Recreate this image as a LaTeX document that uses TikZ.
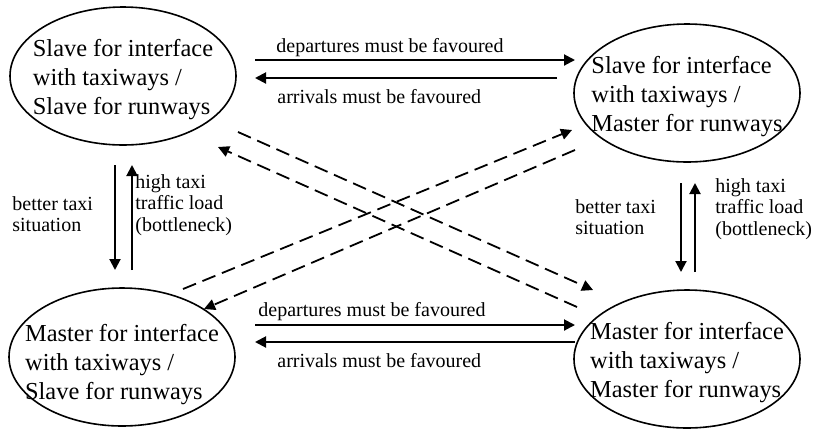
\documentclass[tikz,border=0pt]{standalone}
\usepackage{fontspec}
\setmainfont{Liberation Serif}
\usetikzlibrary{arrows.meta,shapes.geometric}
\begin{document}
\begin{tikzpicture}[x=0.5pt,y=-0.5pt,
  state/.style={draw, line width=0.8pt, ellipse, minimum width=113pt, minimum height=69pt, inner sep=0pt},
  statetext/.style={inner sep=0pt, align=left, font=\fontsize{12.2}{14.5}\selectfont},
  lbl/.style={inner sep=0pt, align=left, font=\fontsize{10}{10.8}\selectfont},
  trans/.style={line width=1pt, -{Triangle[length=5.5pt,width=5.5pt]}},
  cross/.style={line width=0.9pt, dash pattern=on 7pt off 3.5pt, -{Triangle[length=5.5pt,width=5.5pt]}}]
\useasboundingbox (0,0) rectangle (814,430);

% the four operating modes
\node[state] (ss) at (123,76) {};
\node[state] (sm) at (687,93) {};
\node[state] (ms) at (122,357) {};
\node[state] (mm) at (687,359) {};
\node[statetext] (sst) at ([yshift=-2]ss) {Slave for interface\\with taxiways /\\Slave for runways};
\node[statetext] (smt) at ([yshift=-2]sm) {Slave for interface\\with taxiways /\\Master for runways};
\node[statetext] (mst) at ([yshift=-4]ms) {Master for interface\\with taxiways /\\Slave for runways};
\node[statetext] (mmt) at ([yshift=-2]mm) {Master for interface\\with taxiways /\\Master for runways};

% end points of the transitions
\coordinate (a1) at (255,60);  \coordinate (b1) at (575,60);
\coordinate (a2) at (557,78);  \coordinate (b2) at (255,78);
\coordinate (a3) at (255,325); \coordinate (b3) at (575,325);
\coordinate (a4) at (575,342); \coordinate (b4) at (255,342);
\coordinate (a5) at (115,165); \coordinate (b5) at (115,270);
\coordinate (a6) at (132,270); \coordinate (b6) at (132,165);
\coordinate (a7) at (681,183); \coordinate (b7) at (681,272);
\coordinate (a8) at (695,272); \coordinate (b8) at (695,183);
\coordinate (c1) at (238,132); \coordinate (d1) at (593,290);
\coordinate (c2) at (577,307); \coordinate (d2) at (218,147);
\coordinate (c3) at (183,289); \coordinate (d3) at (572,130);
\coordinate (c4) at (575,150); \coordinate (d4) at (204,309);

% horizontal transitions
\draw[trans] (a1) -- (b1);
\draw[trans] (a2) -- (b2);
\draw[trans] (a3) -- (b3);
\draw[trans] (a4) -- (b4);
% vertical transitions
\draw[trans] (a5) -- (b5);
\draw[trans] (a6) -- (b6);
\draw[trans] (a7) -- (b7);
\draw[trans] (a8) -- (b8);
% diagonal transitions
\draw[cross] (c1) -- (d1);
\draw[cross] (c2) -- (d2);
\draw[cross] (c3) -- (d3);
\draw[cross] (c4) -- (d4);

% transition labels
\node[lbl, anchor=base west] (l1) at (276,52) {departures must be favoured};
\node[lbl, anchor=base west] (l2) at (277,103) {arrivals must be favoured};
\node[lbl, anchor=base west] (l3) at (258,316) {departures must be favoured};
\node[lbl, anchor=base west] (l4) at (277,367) {arrivals must be favoured};
\node[lbl, anchor=west] (l5) at (12,214) {better taxi\\situation};
\node[lbl, anchor=west] (l6) at (135,205) {high taxi\\traffic load\\(bottleneck)};
\node[lbl, anchor=west] (l7) at (575,217) {better taxi\\situation};
\node[lbl, anchor=west] (l8) at (715,209) {high taxi\\traffic load\\(bottleneck)};
\end{tikzpicture}
\end{document}
